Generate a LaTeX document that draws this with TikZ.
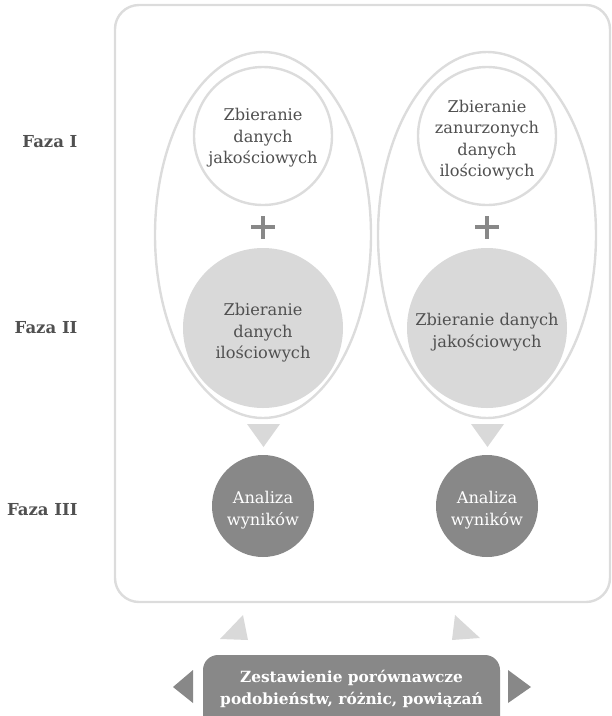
\documentclass[tikz,border=0pt]{standalone}
\usepackage{fontspec}
\setmainfont{DejaVu Serif}
\begin{document}
\begin{tikzpicture}[x=1pt,y=-1pt,
  line/.style={draw=lineg,line width=2.4pt},
  bodytxt/.style={font=\fontsize{16.2}{21.5}\selectfont,text=txtg,align=center},
  phase/.style={font=\fontsize{16.5}{18}\selectfont\bfseries,text=txtg,anchor=east},
  topcirc/.style={circle,line,fill=white,minimum size=138pt,inner sep=0pt},
  midcirc/.style={circle,fill=lightg,minimum size=160pt,inner sep=0pt},
  rescirc/.style={circle,fill=darkg,minimum size=102pt,inner sep=0pt,text=white},
  pluslbl/.style={draw=darkg,line width=3.6pt},
  lighttri/.style={fill=lightg},
  darktri/.style={fill=darkg}]
\definecolor{lineg}{HTML}{DCDCDC}
\definecolor{lightg}{HTML}{D9D9D9}
\definecolor{darkg}{HTML}{888888}
\definecolor{txtg}{HTML}{505050}
\useasboundingbox (0,0) rectangle (612,716);
\begin{scope}
\clip (0,0) rectangle (612,716);

% outer frame
\draw[line,rounded corners=24pt] (115,5) rectangle (610,602);

% two enclosing ellipses
\draw[line] (263,235) ellipse [x radius=108, y radius=183];
\draw[line] (487,235) ellipse [x radius=109, y radius=183];

% phase I circles
\node[topcirc] (q1) at (263,136) {};
\node[bodytxt] at (263,138) {Zbieranie\\danych\\jakościowych};
\node[topcirc] (q2) at (487,136) {};
\node[bodytxt] at (487,140) {Zbieranie\\zanurzonych\\danych\\ilościowych};

% plus signs
\foreach \cx in {263,487}{
  \draw[pluslbl] (\cx-12,227) -- (\cx+12,227);
  \draw[pluslbl] (\cx,216) -- (\cx,239);
}

% phase II circles
\node[midcirc] (m1) at (263,328) {};
\node[bodytxt] at (263,333) {Zbieranie\\danych\\ilościowych};
\node[midcirc] (m2) at (487,328) {};
\node[bodytxt] at (487,332) {Zbieranie danych\\jakościowych};

% down triangles
\fill[lighttri] (247,424) -- (280,424) -- (263.5,447) -- cycle;
\fill[lighttri] (471,424) -- (504,424) -- (487.5,447) -- cycle;

% phase III circles
\node[rescirc] (r1) at (263,506) {};
\node[bodytxt,text=white] at (263,510) {Analiza\\wyników};
\node[rescirc] (r2) at (487,506) {};
\node[bodytxt,text=white] at (487,510) {Analiza\\wyników};

% phase labels
\node[phase] (f1) at (81,142) {Faza I};
\node[phase] (f2) at (81,328) {Faza II};
\node[phase] (f3) at (81,510) {Faza III};

% upward triangles
\fill[lighttri] (243,615) -- (220,639) -- (248,640) -- cycle;
\fill[lighttri] (455,615) -- (452,640) -- (480,638) -- cycle;

% summary box
\fill[darkg,rounded corners=15pt] (203,655) rectangle (500,740);
\node[font=\fontsize{15.4}{22}\selectfont\bfseries,text=white,align=center] (sum) at (351.5,689)
  {Zestawienie porównawcze\\podobieństw, różnic, powiązań};

% side triangles
\fill[darktri] (193,670) -- (193,703) -- (173,687) -- cycle;
\fill[darktri] (508,670) -- (508,703) -- (531,687) -- cycle;
\end{scope}
\end{tikzpicture}
\end{document}
